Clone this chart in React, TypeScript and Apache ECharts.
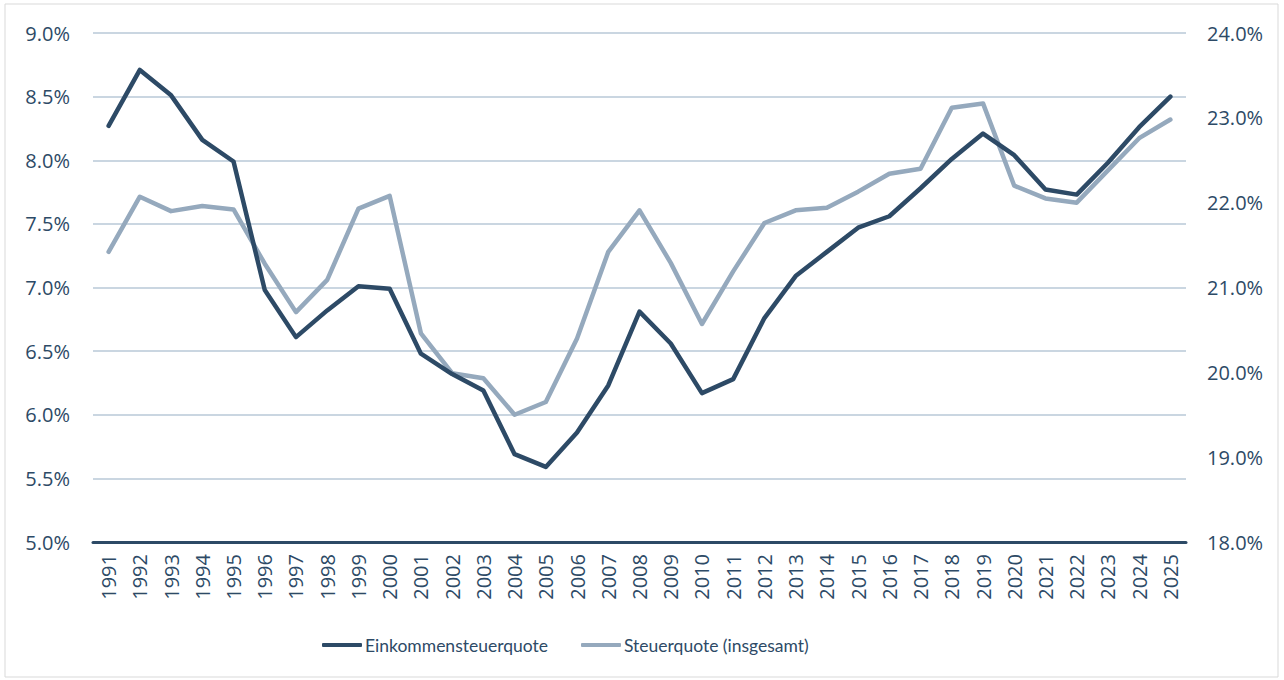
import React, { useEffect, useRef } from "react";
import * as echarts from "echarts";

const years = [
  "1991", "1992", "1993", "1994", "1995", "1996", "1997", "1998", "1999", "2000",
  "2001", "2002", "2003", "2004", "2005", "2006", "2007", "2008", "2009", "2010",
  "2011", "2012", "2013", "2014", "2015", "2016", "2017", "2018", "2019", "2020",
  "2021", "2022", "2023", "2024", "2025",
];

const einkommensteuerquote = [
  8.27, 8.71, 8.51, 8.16, 7.99, 6.98, 6.61, 6.82, 7.01, 6.99,
  6.48, 6.32, 6.19, 5.69, 5.59, 5.86, 6.23, 6.81, 6.56, 6.17,
  6.28, 6.76, 7.09, 7.28, 7.47, 7.56, 7.78, 8.01, 8.21, 8.04,
  7.77, 7.73, 7.98, 8.26, 8.5,
];

const steuerquote = [
  21.42, 22.07, 21.9, 21.96, 21.92, 21.28, 20.71, 21.09, 21.93, 22.08,
  20.46, 19.99, 19.93, 19.5, 19.65, 20.4, 21.42, 21.91, 21.29, 20.57,
  21.19, 21.76, 21.91, 21.94, 22.13, 22.34, 22.4, 23.12, 23.17, 22.2,
  22.05, 22.0, 22.38, 22.76, 22.98,
];

const seriesNames = ["Einkommensteuerquote", "Steuerquote (insgesamt)"];

const DARK = "#2D4A66";
const LIGHT = "#95A9BD";
const GRID = "#B9C8D7";
const TEXT = "#2D4A66";
const TICK_FONT = "'Open Sans', 'Noto Sans', sans-serif";
const LEGEND_FONT = "Lato, 'Noto Sans', sans-serif";

export default function App() {
  const ref = useRef<HTMLDivElement>(null);

  useEffect(() => {
    if (!ref.current) return;
    const chart = echarts.init(ref.current, undefined, { renderer: "svg" });
    chart.setOption({
      animation: false,
      backgroundColor: "#ffffff",
      textStyle: { fontFamily: TICK_FONT, color: TEXT },
      graphic: [
        {
          type: "rect",
          shape: { x: 5, y: 4, width: 1273, height: 673 },
          style: { fill: "none", stroke: "#D9D9D9", lineWidth: 1 },
          silent: true,
        },
      ],
      grid: { left: 93, right: 98, top: 33, bottom: 138, containLabel: false },
      legend: {
        data: seriesNames,
        top: 631,
        left: 317,
        itemWidth: 40,
        itemHeight: 4,
        itemGap: 33,
        icon: "roundRect",
        textStyle: { fontFamily: LEGEND_FONT, fontSize: 17.5, color: TEXT, padding: [0, 0, 0, -2] },
      },
      xAxis: {
        type: "category",
        data: years,
        boundaryGap: true,
        axisLine: { show: true, lineStyle: { color: DARK, width: 3 } },
        axisTick: { show: false },
        axisLabel: {
          rotate: 90,
          margin: 12,
          fontSize: 20,
          color: TEXT,
          fontFamily: TICK_FONT,
          interval: 0,
        },
      },
      yAxis: [
        {
          type: "value",
          min: 5,
          max: 9,
          interval: 0.5,
          axisLine: { show: false },
          axisTick: { show: false },
          splitLine: { show: true, lineStyle: { color: GRID, width: 1.5 } },
          axisLabel: {
            margin: 23,
            fontSize: 20,
            color: TEXT,
            fontFamily: TICK_FONT,
            formatter: (v: number) => v.toFixed(1) + "%",
          },
        },
        {
          type: "value",
          min: 18,
          max: 24,
          interval: 1,
          position: "right",
          axisLine: { show: false },
          axisTick: { show: false },
          splitLine: { show: false },
          axisLabel: {
            margin: 21,
            fontSize: 20,
            color: TEXT,
            fontFamily: TICK_FONT,
            formatter: (v: number) => v.toFixed(1) + "%",
          },
        },
      ],
      series: [
        {
          name: seriesNames[1],
          type: "line",
          yAxisIndex: 1,
          data: steuerquote,
          symbol: "none",
          lineStyle: { color: LIGHT, width: 4.5, cap: "round", join: "round" },
          itemStyle: { color: LIGHT },
          z: 2,
        },
        {
          name: seriesNames[0],
          type: "line",
          yAxisIndex: 0,
          data: einkommensteuerquote,
          symbol: "none",
          lineStyle: { color: DARK, width: 4.5, cap: "round", join: "round" },
          itemStyle: { color: DARK },
          z: 3,
        },
      ],
    });
    return () => chart.dispose();
  }, []);

  return (
    <div
      ref={ref}
      style={{ position: "fixed", left: 0, top: 0, width: 1284, height: 680 }}
    />
  );
}
